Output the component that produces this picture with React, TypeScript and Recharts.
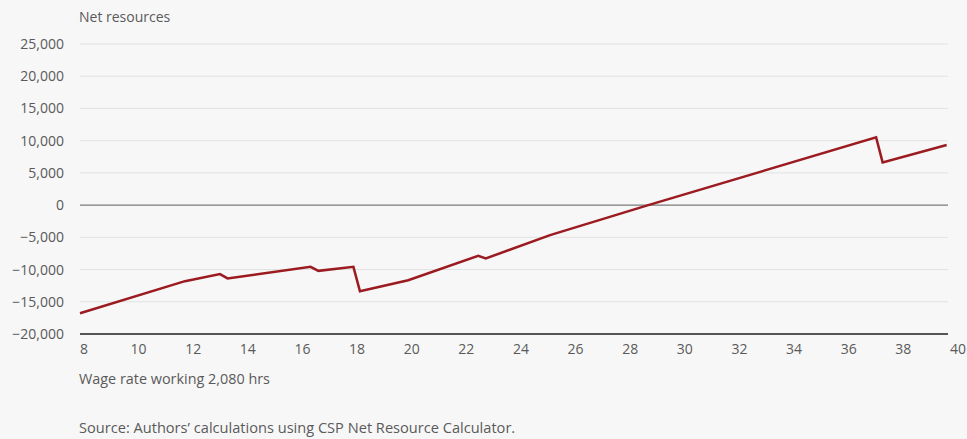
import { LineChart, Line, XAxis, YAxis, CartesianGrid, ReferenceLine } from "recharts";

// wage rate ($/hr) and net resources ($)
const wages = [8, 11.87, 13.16, 13.44, 16.5, 16.79, 18.08, 18.32, 20.1, 22.68, 22.96, 25.33, 28.95, 37.35, 37.59, 39.95];
const netResources = [-16770, -11800, -10710, -11380, -9580, -10200, -9580, -13350, -11650, -7870, -8280, -4660, 0, 10510, 6630, 9320];
const xTicks = [8, 10, 12, 14, 16, 18, 20, 22, 24, 26, 28, 30, 32, 34, 36, 38, 40];
const yTicks = [-20000, -15000, -10000, -5000, 0, 5000, 10000, 15000, 20000, 25000];

const FONT = "'Open Sans', Lato, sans-serif";
const GREY = "#5a5a5a";
const FS = 14;

const data = wages.map((w, i) => ({ wage: w, net: netResources[i] }));

function fmt(v: number) {
  const s = Math.abs(v).toLocaleString("en-US");
  return v < 0 ? "\u2212" + s : s;
}

// labels in the reference drift a little right of their ticks
function XTick(props: any) {
  const { x, y, payload } = props;
  const dx = 4 + ((payload.value - 8) / 32) * 6;
  return (
    <text x={x + dx} y={y} dy={10} textAnchor="middle" fill={GREY} fontSize={FS} fontFamily={FONT}>
      {payload.value}
    </text>
  );
}

export default function App() {
  return (
    <div
      style={{
        position: "absolute",
        left: 0,
        top: 0,
        width: 967,
        height: 439,
        background: "#f7f7f7",
        fontFamily: FONT,
        color: GREY,
      }}
    >
      <div style={{ position: "absolute", left: 79, top: 7, fontSize: FS }}>Net resources</div>
      <LineChart
        width={967}
        height={370}
        data={data}
        margin={{ top: 44, right: 19, bottom: 6, left: 0 }}
      >
        <CartesianGrid vertical={false} stroke="#e2e2e2" strokeWidth={1} />
        <XAxis
          dataKey="wage"
          type="number"
          domain={[8, 40]}
          ticks={xTicks}
          interval={0}
          height={30}
          tickSize={0}
          tickMargin={10}
          axisLine={{ stroke: "#222", strokeWidth: 1.5 }}
          tick={<XTick />}
        />
        <YAxis
          type="number"
          domain={[-20000, 25000]}
          ticks={yTicks}
          interval={0}
          width={80}
          tickSize={0}
          tickMargin={16}
          axisLine={false}
          tickFormatter={fmt}
          tick={{ fill: GREY, fontSize: FS, fontFamily: FONT }}
        />
        <ReferenceLine y={0} stroke="#666" strokeWidth={1} />
        <Line
          dataKey="net"
          type="linear"
          stroke="#9b1b20"
          strokeWidth={2.5}
          dot={false}
          isAnimationActive={false}
        />
      </LineChart>
      <div style={{ position: "absolute", left: 79, top: 369, fontSize: 14.4 }}>
        Wage rate working 2,080 hrs
      </div>
      <div style={{ position: "absolute", left: 79, top: 417, fontSize: 14.6 }}>
        Source: Authors’ calculations using CSP Net Resource Calculator.
      </div>
    </div>
  );
}
